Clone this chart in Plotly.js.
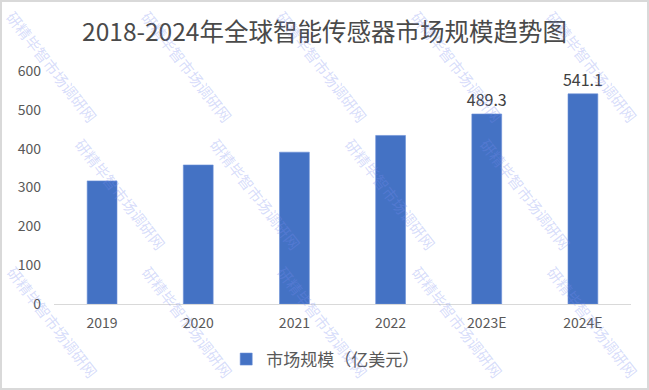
<!DOCTYPE html>
<html><head><meta charset="utf-8">
<script src="https://cdn.plot.ly/plotly-3.0.1.min.js"></script>
<style>
html,body{margin:0;padding:0;background:#fff;}
#wrap{position:relative;width:649px;height:390px;}
#chart{position:absolute;left:0;top:0;width:649px;height:390px;}
#frame{position:absolute;left:0;top:0;width:649px;height:390px;box-sizing:border-box;border:2px solid #d9d9d9;pointer-events:none;}
</style>
</head><body>
<div id="wrap"><div id="chart"></div><div id="frame"></div></div>
<script>
const categories = ['2019','2020','2021','2022','2023E','2024E'];
const marketSize = [317, 358, 391, 434, 489.3, 541.1];
const labelText = ['', '', '', '', '489.3', '541.1'];
const titleText = '2018-2024年全球智能传感器市场规模趋势图';
const seriesName = '市场规模（亿美元）';
const watermarkText = '研精毕智市场调研网';

const FONT = 'Noto Sans CJK SC, Noto Sans, sans-serif';

// decorative watermark grid (paper coordinates, kept inside the canvas)
const W = 649, H = 390, L = 54, R = 18, T = 71, B = 84;
const pw = W - L - R, ph = H - T - B;
const wm = [];
const rowsY = [66, 195, 324];
rowsY.forEach((py, r) => {
  const xs = r % 2 === 0 ? [52, 187, 322, 457, 592] : [120, 255, 390, 525];
  xs.forEach(px => {
    wm.push({
      xref: 'paper', yref: 'paper',
      x: (px - L) / pw, y: 1 - (py - T) / ph,
      text: watermarkText, showarrow: false, textangle: 52,
      font: {family: FONT, size: 15, color: 'rgba(120,140,240,0.3)'},
      xanchor: 'center', yanchor: 'middle'
    });
  });
});

const trace = {
  type: 'bar', x: categories, y: marketSize, name: seriesName,
  marker: {color: '#4472C4', line: {color: '#6a8fd6', width: 0.6}},
  text: labelText, textposition: 'outside', cliponaxis: false,
  constraintext: 'none',
  textfont: {family: FONT, size: 16, color: '#404040'},
  hoverinfo: 'x+y'
};

const layout = {
  width: W, height: H,
  margin: {l: L, r: R, t: T, b: B},
  paper_bgcolor: 'rgba(0,0,0,0)', plot_bgcolor: 'rgba(0,0,0,0)',
  font: {family: FONT, color: '#595959'},
  title: {text: titleText, x: 0.5, xanchor: 'center', xref: 'container',
          y: 1 - 32 / H, yanchor: 'middle', yref: 'container',
          font: {family: FONT, size: 24.5, color: '#4a4a4a'}},
  bargap: 0.69,
  xaxis: {type: 'category', showline: true, linecolor: '#d9d9d9', linewidth: 1,
          showgrid: false, zeroline: false, ticks: '', ticklabelstandoff: 6,
          tickfont: {family: FONT, size: 14, color: '#595959'}},
  yaxis: {range: [0, 600], dtick: 100, tick0: 0, showgrid: false, zeroline: false,
          showline: false, ticks: '', ticklabelstandoff: 12,
          tickfont: {family: FONT, size: 14, color: '#595959'}},
  showlegend: true,
  legend: {orientation: 'h', x: 0.47, xanchor: 'center', y: -(362 - 306) / ph, yanchor: 'middle',
           font: {family: FONT, size: 17, color: '#595959'}, itemwidth: 30},
  annotations: wm
};

Plotly.newPlot('chart', [trace], layout, {displayModeBar: false, staticPlot: true});
</script>
</body></html>
